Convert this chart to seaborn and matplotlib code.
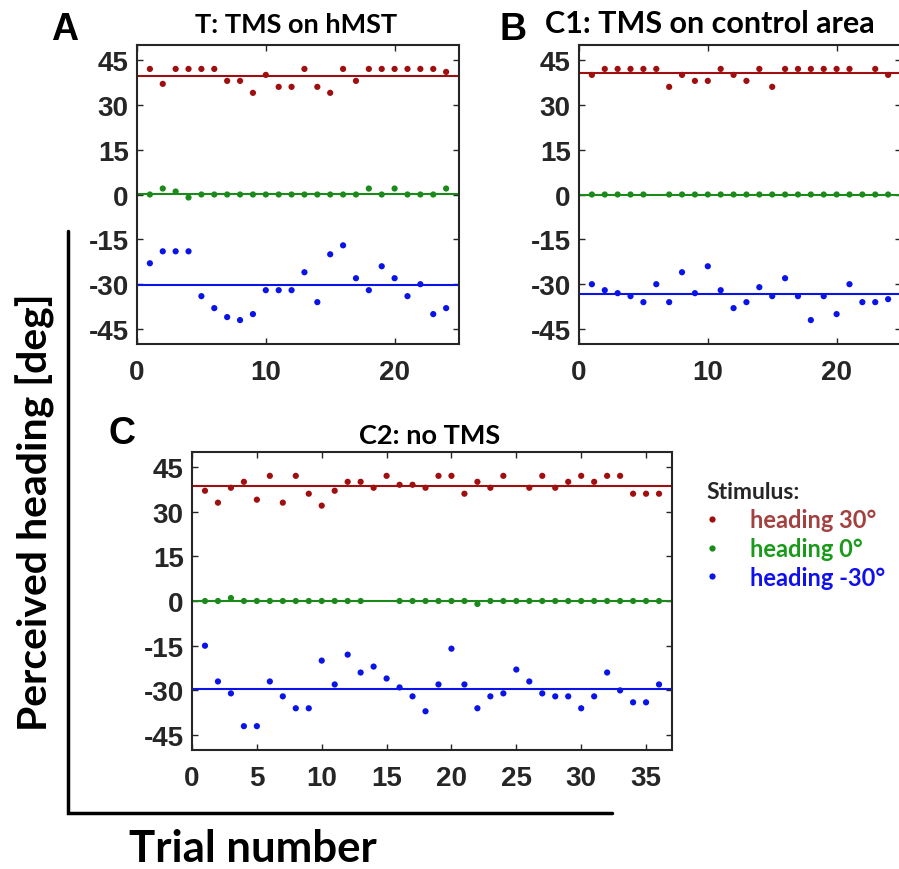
import numpy as np
import pandas as pd
import matplotlib
matplotlib.use('Agg')
import matplotlib.pyplot as plt
from matplotlib.lines import Line2D
import seaborn as sns

nan = np.nan

# perceived heading per trial, panel A (TMS on hMST)
a_30 = [42, 37, 42, 42, 42, 42, 38, 38, 34, 40, 36, 36, 42, 36, 34, 42, 38, 42, 42, 42, 42, 42, 42, 41]
a_0 = [0, 2, 1, -1, 0, 0, 0, 0, 0, 0, 0, 0, 0, 0, 0, 0, 0, 2, 0, 2, 0, 0, 0, 2]
a_m30 = [-23, -19, -19, -19, -34, -38, -41, -42, -40, -32, -32, -32, -26, -36, -20, -17, -28, -32,
         -24, -28, -34, -30, -40, -38]

# panel B (TMS on control area)
b_30 = [40, 42, 42, 42, 42, 42, 36, 40, 38, 38, 42, 40, 38, 42, 36, 42, 42, 42, 42, 42, 42, nan, 42, 40]
b_0 = [0, 0, 0, 0, 0, nan, 0, 0, 0, 0, 0, 0, 0, 0, 0, 0, 0, 0, 0, 0, 0, 0, 0, 0]
b_m30 = [-30, -32, -33, -34, -36, -30, -36, -26, -33, -24, -32, -38, -36, -31, -34, -28, -34, -42,
         -34, -40, -30, -36, -36, -35]

# panel C (no TMS)
c_30 = [37, 33, 38, 40, 34, 42, 33, 42, 36, 32, 37, 40, 40, 38, 42, 39, 39, 38, 42, 42, 36, 40, 38, 42,
        nan, 38, 42, 38, 40, 42, 40, 42, 42, 36, 36, 36]
c_0 = [0, 0, 1, 0, 0, 0, 0, 0, 0, 0, 0, 0, 0, nan, nan, 0, 0, 0, 0, 0, 0, -1, 0, 0, 0, 0, 0, 0, 0, 0,
       0, 0, 0, 0, 0, 0]
c_m30 = [-15, -27, -31, -42, -42, -27, -32, -36, -36, -20, -28, -18, -24, -22, -26, -29, -32, -37,
         -28, -16, -28, -36, -32, -31, -23, -27, -31, -32, -32, -36, -32, -24, -30, -34, -34, -28]

stimuli = ['heading 30°', 'heading 0°', 'heading -30°']
dot_colors = {'heading 30°': '#a00f0f', 'heading 0°': '#1b8a1b', 'heading -30°': '#0a14e6'}
text_colors = ['#a34040', '#1a9a1a', '#1010ee']
yticks = [-45, -30, -15, 0, 15, 30, 45]

sns.set_style('ticks')
plt.rcParams['font.family'] = ['Liberation Sans', 'DejaVu Sans']
plt.rcParams['font.weight'] = 'bold'
plt.rcParams['axes.unicode_minus'] = False
CAL = ['Lato', 'DejaVu Sans']
INK = '#262626'

W, H = 899, 870
fig = plt.figure(figsize=(W / 100, H / 100), dpi=100)


def box(l, t, r, b):
    return [l / W, 1 - b / H, (r - l) / W, (b - t) / H]


def to_long(s30, s0, sm30):
    n = len(s30)
    trial = list(range(1, n + 1))
    df = pd.DataFrame({'trial': trial * 3,
                       'heading': list(s30) + list(s0) + list(sm30),
                       'stimulus': [stimuli[0]] * n + [stimuli[1]] * n + [stimuli[2]] * n})
    return df


def panel(rect, s30, s0, sm30, xmax, xticks):
    ax = fig.add_axes(rect)
    df = to_long(s30, s0, sm30)
    for st in stimuli:
        ax.axhline(df.loc[df['stimulus'] == st, 'heading'].mean(), color=dot_colors[st], lw=1.5, zorder=1)
    sns.scatterplot(data=df.dropna(), x='trial', y='heading', hue='stimulus', palette=dot_colors,
                    s=20, linewidth=0, legend=False, ax=ax, zorder=2)
    ax.set_xlim(0, xmax)
    ax.set_ylim(-50, 50)
    ax.set_xticks(xticks)
    ax.set_yticks(yticks)
    ax.set_xlabel('')
    ax.set_ylabel('')
    ax.tick_params(axis='both', direction='in', top=True, right=True, length=4.5, width=1,
                   color=INK, labelcolor=INK, labelsize=20)
    ax.tick_params(axis='y', pad=6)
    ax.tick_params(axis='x', pad=11)
    for sp in ax.spines.values():
        sp.set_visible(True)
        sp.set_color(INK)
        sp.set_linewidth(1.5)
    return ax


ax_a = panel(box(137, 46, 459, 345), a_30, a_0, a_m30, 25, [0, 10, 20])
ax_b = panel(box(579, 46, 901, 345), b_30, b_0, b_m30, 25, [0, 10, 20])
ax_c = panel(box(192, 453, 672, 751), c_30, c_0, c_m30, 37, [0, 5, 10, 15, 20, 25, 30, 35])

# titles and panel letters
fig.text(296 / W, 1 - 33 / H, 'T: TMS on hMST', family=CAL, weight='bold', fontsize=19.5,
         ha='center', va='baseline', color='black')
fig.text(710 / W, 1 - 33 / H, 'C1: TMS on control area', family=CAL, weight='bold', fontsize=22,
         ha='center', va='baseline', color='black')
fig.text(430 / W, 1 - 444 / H, 'C2: no TMS', family=CAL, weight='bold', fontsize=19.5,
         ha='center', va='baseline', color='black')
for letter, x, y in [('A', 51, 40), ('B', 500, 40), ('C', 109, 444)]:
    fig.text(x / W, 1 - y / H, letter, fontsize=27, weight='bold', ha='left', va='baseline', color='black')

# shared axis labels with the L-shaped frame
fig.add_artist(Line2D([68 / W, 68 / W, 612 / W], [1 - 232 / H, 1 - 814 / H, 1 - 814 / H],
                      color='black', lw=2.5, solid_joinstyle='miter'))
fig.text(35 / W, 1 - 512 / H, 'Perceived heading [deg]', family=CAL, weight='bold', fontsize=29.5,
         rotation=90, ha='center', va='center', color='black')
fig.text(253 / W, 1 - 849 / H, 'Trial number', family=CAL, weight='bold', fontsize=31.5,
         ha='center', va='center', color='black')

# legend
handles = [Line2D([], [], ls='', marker='o', ms=4.5, mec='none', mfc=dot_colors[s]) for s in stimuli]
leg = fig.legend(handles, stimuli, loc='upper left', bbox_to_anchor=(706 / W, 1 - 482 / H),
                 frameon=False, title='Stimulus:', handletextpad=1.35, handlelength=0.5,
                 labelspacing=0.25, borderaxespad=0, borderpad=0,
                 prop={'family': CAL, 'weight': 'bold', 'size': 17},
                 title_fontproperties={'family': CAL, 'weight': 'bold', 'size': 16.5})
leg._legend_box.align = 'left'
for t, c in zip(leg.get_texts(), text_colors):
    t.set_color(c)

fig.savefig('out.png', dpi=100)
